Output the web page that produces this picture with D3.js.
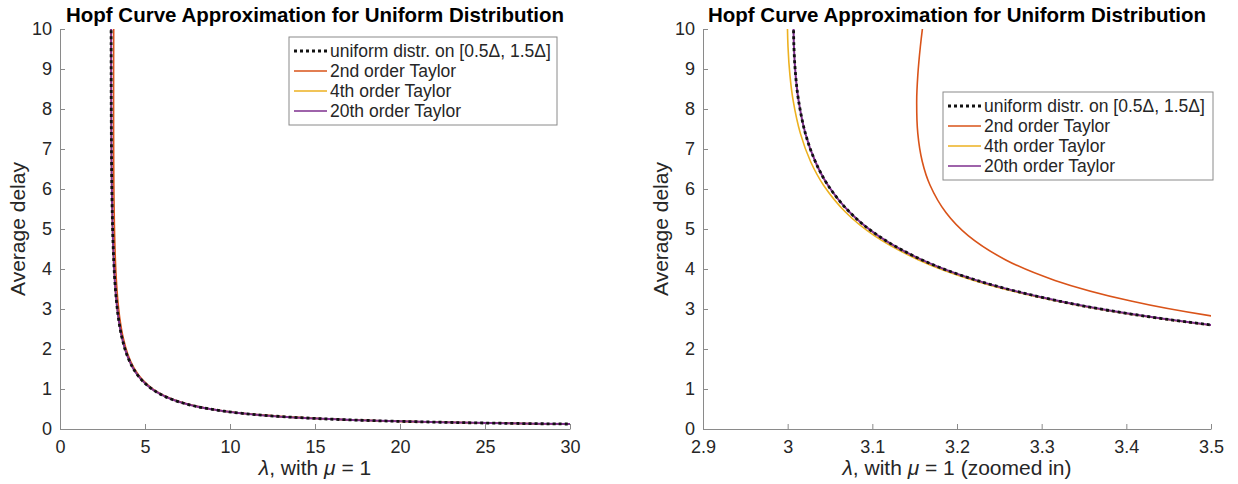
<!DOCTYPE html>
<html>
<head>
<meta charset="utf-8">
<title>Hopf Curve Approximation</title>
<script src="https://d3js.org/d3.v7.min.js"></script>
<style>
html, body { margin: 0; padding: 0; background: #fff; overflow: hidden; }
svg { font-family: "Liberation Sans", Arial, Helvetica, sans-serif; }
</style>
</head>
<body>
<svg width="1238" height="484"></svg>
<script>
// average delay (y) shared by every curve
var avgDelay    = [11.324, 10.376, 9.556, 8.840, 8.208, 7.390, 6.694, 6.094, 5.412, 4.835, 4.227, 3.715, 3.198, 2.761, 2.274, 1.870, 1.527, 1.234, 0.979, 0.755, 0.581, 0.445, 0.340, 0.262, 0.205, 0.169, 0.142, 0.122];
// lambda where each curve sits at that delay
var lamUniform  = [3.0078, 3.0069, 3.0074, 3.0094, 3.0129, 3.0209, 3.0325, 3.0476, 3.0736, 3.1067, 3.1586, 3.2234, 3.3205, 3.4417, 3.6490, 3.9232, 4.2885, 4.7839, 5.4766, 6.4922, 7.8465, 9.6535, 12.044, 15.111, 18.755, 22.393, 26.238, 30.443];
var lamTaylor2  = [3.1678, 3.1614, 3.1567, 3.1537, 3.1524, 3.1537, 3.1589, 3.1682, 3.1869, 3.2132, 3.2576, 3.3157, 3.4055, 3.5205, 3.7207, 3.9891, 4.3498, 4.8419, 5.5326, 6.5479, 7.9040, 9.7150, 12.113, 15.189, 18.844, 22.495, 26.353, 30.572];
var lamTaylor4  = [3.0001, 2.9996, 3.0004, 3.0027, 3.0065, 3.0150, 3.0269, 3.0424, 3.0688, 3.1023, 3.1547, 3.2199, 3.3174, 3.4389, 3.6467, 3.9212, 4.2868, 4.7824, 5.4752, 6.4909, 7.8453, 9.6524, 12.043, 15.110, 18.753, 22.392, 26.237, 30.441];
var lamTaylor20 = [3.0078, 3.0069, 3.0074, 3.0094, 3.0129, 3.0209, 3.0325, 3.0476, 3.0736, 3.1067, 3.1586, 3.2234, 3.3205, 3.4417, 3.6490, 3.9232, 4.2885, 4.7839, 5.4766, 6.4922, 7.8465, 9.6535, 12.044, 15.111, 18.755, 22.393, 26.238, 30.443];

var seriesNames = ["uniform distr. on [0.5\u0394, 1.5\u0394]", "2nd order Taylor", "4th order Taylor", "20th order Taylor"];
var yTicks = [0, 1, 2, 3, 4, 5, 6, 7, 8, 9, 10];
var leftXTicks = [0, 5, 10, 15, 20, 25, 30];
var rightXTicks = [2.9, 3, 3.1, 3.2, 3.3, 3.4, 3.5];

var titleText = "Hopf Curve Approximation for Uniform Distribution";

var colUniform = "#111111", col2 = "#D95319", col4 = "#EDB120", col20 = "#7E2F8E";
var axisCol = "#8a8a8a", textCol = "#262626";

var svg = d3.select("svg");
var yTop = 29, yBottom = 429;

var series = [
  {name: seriesNames[1], lam: lamTaylor2, color: col2, width: 1.6},
  {name: seriesNames[2], lam: lamTaylor4, color: col4, width: 1.6},
  {name: seriesNames[3], lam: lamTaylor20, color: col20, width: 2},
  {name: seriesNames[0], lam: lamUniform, color: colUniform, width: 2.8, dash: "3,3"}
];
// legend order
var legendOrder = [3, 0, 1, 2];

function drawPanel(cfg) {
  var x = d3.scaleLinear().domain(cfg.xDomain).range([cfg.x0, cfg.x1]);
  var y = d3.scaleLinear().domain([0, 10]).range([yBottom, yTop]);
  var g = svg.append("g");

  g.append("clipPath").attr("id", cfg.id)
    .append("rect")
    .attr("x", cfg.x0).attr("y", yTop)
    .attr("width", cfg.x1 - cfg.x0).attr("height", yBottom - yTop);

  // axes (left + bottom only, ticks pointing inward)
  var xAxis = d3.axisBottom(x).tickValues(cfg.xTicks).tickSizeInner(-5).tickSizeOuter(0)
    .tickPadding(11).tickFormat(d => String(d));
  var yAxis = d3.axisLeft(y).tickValues(yTicks).tickSizeInner(-5).tickSizeOuter(0)
    .tickPadding(8);

  var gx = g.append("g").attr("transform", "translate(0," + yBottom + ")").call(xAxis);
  var gy = g.append("g").attr("transform", "translate(" + cfg.x0 + ",0)").call(yAxis);
  [gx, gy].forEach(function (a) {
    a.select(".domain").attr("stroke", axisCol);
    a.selectAll(".tick line").attr("stroke", axisCol);
    a.selectAll("text").attr("fill", textCol).style("font-size", "18px")
      .style("font-family", "'Liberation Sans', Arial, sans-serif");
  });
  gx.selectAll("text").attr("dy", "0.71em");

  var line = d3.line()
    .x(d => x(d[0]))
    .y(d => y(d[1]))
    .curve(d3.curveCatmullRom.alpha(0.5));

  var plot = g.append("g").attr("clip-path", "url(#" + cfg.id + ")");
  series.forEach(function (s) {
    var pts = s.lam.map((l, i) => [l, avgDelay[i]]);
    plot.append("path")
      .attr("d", line(pts))
      .attr("fill", "none")
      .attr("stroke", s.color)
      .attr("stroke-width", s.width)
      .attr("stroke-dasharray", s.dash || null);
  });

  // title
  g.append("text")
    .attr("x", (cfg.x0 + cfg.x1) / 2).attr("y", 22)
    .attr("text-anchor", "middle")
    .style("font-size", "20.5px").style("font-weight", "bold")
    .attr("fill", "#000")
    .text(titleText);

  // x label
  var xl = g.append("text")
    .attr("x", (cfg.x0 + cfg.x1) / 2).attr("y", 475)
    .attr("text-anchor", "middle")
    .style("font-size", "21px").attr("fill", textCol);
  xl.append("tspan").style("font-style", "italic").text("\u03bb");
  xl.append("tspan").text(", with ");
  xl.append("tspan").style("font-style", "italic").text("\u03bc");
  xl.append("tspan").text(" = 1" + cfg.xSuffix);

  // y label
  g.append("text")
    .attr("transform", "translate(" + (cfg.x0 - 35) + "," + ((yTop + yBottom) / 2) + ") rotate(-90)")
    .attr("text-anchor", "middle")
    .style("font-size", "21px").attr("fill", textCol)
    .text("Average delay");

  // legend
  var lg = g.append("g").attr("transform", "translate(" + cfg.legX + "," + cfg.legY + ")");
  lg.append("rect")
    .attr("width", cfg.legW).attr("height", 88)
    .attr("fill", "#fff").attr("stroke", axisCol).attr("stroke-width", 1);
  legendOrder.forEach(function (si, k) {
    var s = series[si];
    var ry = 14 + k * 20;
    lg.append("line")
      .attr("x1", 5).attr("x2", 38).attr("y1", ry).attr("y2", ry)
      .attr("stroke", s.color).attr("stroke-width", s.dash ? 3.2 : 1.6)
      .attr("stroke-dasharray", s.dash || null);
    lg.append("text")
      .attr("x", 41).attr("y", ry).attr("dy", "0.35em")
      .style("font-size", "17.5px").attr("fill", textCol)
      .text(s.name);
  });
}

drawPanel({id: "clipL", x0: 60, x1: 570, xDomain: [0, 30], xTicks: leftXTicks, xSuffix: "",
  legX: 289, legY: 37, legW: 268});
drawPanel({id: "clipR", x0: 703, x1: 1211, xDomain: [2.9, 3.5], xTicks: rightXTicks, xSuffix: " (zoomed in)",
  legX: 943, legY: 92, legW: 270});
</script>
</body>
</html>
